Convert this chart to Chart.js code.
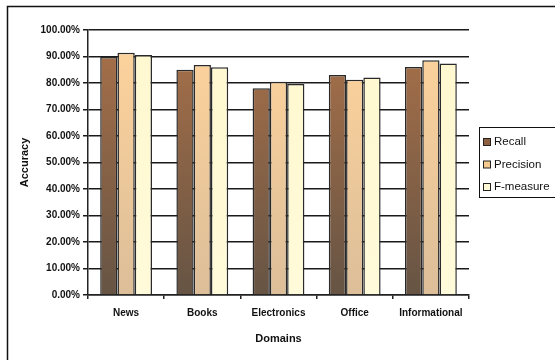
<!DOCTYPE html>
<html>
<head>
<meta charset="utf-8">
<script src="https://cdn.jsdelivr.net/npm/chart.js@4"></script>
<style>
  body { margin: 0; background: #fff; }
  canvas { display: block; }
</style>
</head>
<body>
<canvas id="accuracyChart" width="555" height="360"></canvas>
<script>
// values (percent)
const domains = ['News', 'Books', 'Electronics', 'Office', 'Informational'];
const recall = [89.8, 85.0, 78.0, 83.0, 86.0];
const precision = [91.4, 86.8, 80.5, 81.2, 88.6];
const fMeasure = [90.6, 85.9, 79.6, 82.1, 87.4];
const seriesNames = ['Recall', 'Precision', 'F-measure'];

// top / bottom colour of each series gradient, plus legend swatch
const shades = [
    { top: '#aa7149', bottom: '#665444', swatch: '#8e5f3e' },
    { top: '#ffd49c', bottom: '#dcbe99', swatch: '#f6c990' },
    { top: '#fff8cf', bottom: '#fffad9', swatch: '#fff8d4' }
];

function gradientFor(i) {
    return function (context) {
        const area = context.chart.chartArea;
        if (!area) return shades[i].swatch;
        const g = context.chart.ctx.createLinearGradient(0, area.top, 0, area.bottom);
        g.addColorStop(0, shades[i].top);
        g.addColorStop(1, shades[i].bottom);
        return g;
    };
}

// outer frame (only left/top edges are visible in the original)
const framePlugin = {
    id: 'frame',
    beforeDraw(chart) {
        const c = chart.ctx;
        c.save();
        c.fillStyle = '#fff';
        c.fillRect(0, 0, chart.width, chart.height);
        c.strokeStyle = '#111';
        c.lineWidth = 1.5;
        c.strokeRect(7.5, 6.5, 700, 500);
        c.restore();
    }
};

// boxed legend on the right
const boxLegend = {
    id: 'boxLegend',
    afterDraw(chart) {
        const c = chart.ctx;
        const x = 479, y = 127, w = 76, h = 70;
        c.save();
        c.strokeStyle = '#111';
        c.lineWidth = 1;
        c.strokeRect(x + 0.5, y + 0.5, w, h);
        c.font = '11.5px "Liberation Sans", Arial, sans-serif';
        c.textBaseline = 'middle';
        chart.data.datasets.forEach((ds, i) => {
            const cy = 142 + i * 22.5;
            c.fillStyle = shades[i].swatch;
            c.fillRect(483.5, cy - 3.5, 7, 7);
            c.strokeStyle = '#222';
            c.strokeRect(483.5, cy - 3.5, 7, 7);
            c.fillStyle = '#111';
            c.fillText(ds.label, 494, cy);
        });
        c.restore();
    }
};

const ctx = document.getElementById('accuracyChart').getContext('2d');
const accuracyChart = new Chart(ctx, {
    type: 'bar',
    data: {
        labels: domains,
        datasets: [
            { label: seriesNames[0], data: recall, backgroundColor: gradientFor(0) },
            { label: seriesNames[1], data: precision, backgroundColor: gradientFor(1) },
            { label: seriesNames[2], data: fMeasure, backgroundColor: gradientFor(2) }
        ]
    },
    options: {
        responsive: false,
        animation: false,
        layout: { padding: { left: 14, top: 30, right: 86, bottom: 10 } },
        datasets: {
            bar: {
                borderColor: '#2a2a2a',
                borderWidth: 1.5,
                categoryPercentage: 0.68,
                barPercentage: 1
            }
        },
        plugins: {
            legend: { display: false },
            tooltip: { enabled: false }
        },
        scales: {
            x: {
                afterFit(scale) { scale.height = 55; },
                grid: {
                    drawOnChartArea: false,
                    drawTicks: true,
                    tickLength: 4,
                    color: '#222',
                    lineWidth: 1.5
                },
                border: { color: '#222', width: 1.5 },
                ticks: {
                    padding: 8,
                    color: '#111',
                    font: { family: '"Liberation Sans", Arial, sans-serif', size: 10, weight: 'bold' }
                },
                title: {
                    display: true,
                    text: 'Domains',
                    color: '#111',
                    font: { family: '"Liberation Sans", Arial, sans-serif', size: 11, weight: 'bold' }
                }
            },
            y: {
                min: 0,
                max: 100,
                afterFit(scale) { scale.width = 74; },
                grid: {
                    color: '#1a1a1a',
                    lineWidth: 1.5,
                    tickLength: 5
                },
                border: { color: '#222', width: 1.5 },
                ticks: {
                    stepSize: 10,
                    padding: 3,
                    color: '#111',
                    font: { family: '"Liberation Sans", Arial, sans-serif', size: 10, weight: 'bold' },
                    callback: v => v.toFixed(2) + '%'
                },
                title: {
                    display: true,
                    text: 'Accuracy',
                    color: '#111',
                    font: { family: '"Liberation Sans", Arial, sans-serif', size: 11, weight: 'bold' }
                }
            }
        }
    },
    plugins: [framePlugin, boxLegend]
});
</script>
</body>
</html>
